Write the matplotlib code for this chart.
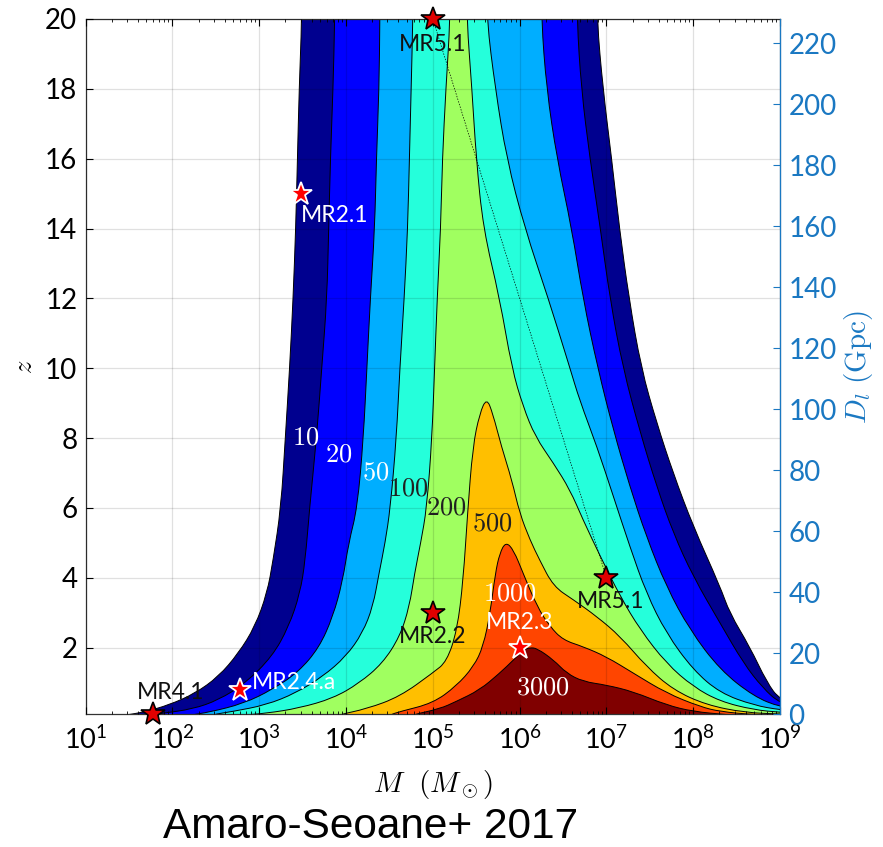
import matplotlib
matplotlib.use('Agg')
import matplotlib.pyplot as plt
from matplotlib.path import Path
from matplotlib.patches import PathPatch
from matplotlib.ticker import LogLocator, LogFormatterSciNotation, NullFormatter, FixedLocator

plt.rcParams['font.family'] = ['Lato', 'DejaVu Sans']
plt.rcParams['mathtext.fontset'] = 'cm'

# SNR levels and the colour of the band above each level
levels = [10, 20, 50, 100, 200, 500, 1000, 3000]
band_colors = ['#00008f', '#0000ff', '#00aeff', '#25ffdb',
               '#a0ff60', '#ffbf00', '#ff4500', '#800000']
label_colors = ['white', 'white', 'white', '#202020', '#202020', '#202020', 'white', 'white']

# contour lines, as (log10 M, z): left branch bottom->top, right branch top->bottom
c10_left = [(1.45, 0.07), (1.54, 0.1), (1.69, 0.17), (1.96, 0.36), (2.26, 0.69), (2.53, 1.17),
            (2.76, 1.84), (2.95, 2.6), (3.09, 3.56), (3.16, 4.51), (3.25, 6), (3.30, 8),
            (3.35, 10), (3.39, 12), (3.42, 14), (3.44, 16), (3.46, 18), (3.49, 20)]
c10_right = [(6.89, 20), (6.96, 18), (7.06, 16), (7.15, 14), (7.26, 12), (7.40, 10), (7.58, 8.43),
             (7.77, 6.99), (8.0, 5.47), (8.31, 3.75), (8.42, 2.99), (8.65, 2.03), (8.85, 1.0),
             (9.0, 0.5), (9.3, 0.3)]

c20_left = [(1.75, 0.07), (1.88, 0.12), (2.23, 0.24), (2.53, 0.5), (2.84, 0.98), (3.15, 1.75),
            (3.34, 2.6), (3.47, 3.56), (3.53, 4.5), (3.58, 6), (3.66, 8), (3.72, 10),
            (3.78, 12), (3.80, 14), (3.82, 16), (3.85, 18), (3.87, 20)]
c20_right = [(6.66, 20), (6.71, 18), (6.81, 16), (6.93, 14), (7.04, 12), (7.19, 10), (7.39, 8.15),
             (7.58, 6.61), (7.77, 5.28), (8.0, 4.03), (8.31, 2.7), (8.58, 1.55), (8.8, 0.85),
             (9.0, 0.4), (9.3, 0.25)]

c50_left = [(2.2, 0.07), (2.42, 0.15), (2.82, 0.40), (3.15, 0.8), (3.45, 1.3), (3.69, 2.0),
            (3.85, 2.9), (3.96, 3.9), (4.03, 5.0), (4.13, 6), (4.20, 8), (4.24, 10),
            (4.28, 12), (4.33, 14), (4.35, 16), (4.38, 18), (4.39, 20)]
c50_right = [(6.25, 20), (6.31, 18), (6.43, 16), (6.60, 14), (6.73, 12), (6.90, 10), (7.08, 8.23),
             (7.27, 6.61), (7.46, 5.18), (7.69, 3.75), (7.96, 2.51), (8.31, 1.36), (8.7, 0.6),
             (9.0, 0.3), (9.3, 0.2)]

c100_left = [(2.45, 0.08), (2.69, 0.17), (3.08, 0.36), (3.42, 0.70), (3.73, 1.17), (4.0, 1.75),
             (4.19, 2.42), (4.31, 3.18), (4.38, 4.13), (4.45, 5.0), (4.51, 6), (4.58, 8),
             (4.62, 10), (4.67, 12), (4.71, 14), (4.73, 16), (4.75, 18), (4.77, 20)]
c100_right = [(5.62, 20), (5.72, 18), (5.85, 16), (6.06, 14), (6.33, 12), (6.58, 10), (6.69, 9.09),
              (6.89, 7.76), (7.08, 6.33), (7.27, 4.89), (7.46, 3.56), (7.69, 2.41), (8.0, 1.36),
              (8.31, 0.7), (8.7, 0.35), (9.0, 0.22), (9.3, 0.15)]

c200_left = [(2.8, 0.07), (3.08, 0.12), (3.46, 0.27), (3.85, 0.55), (4.15, 0.98), (4.42, 1.55),
             (4.62, 2.32), (4.73, 3.18), (4.79, 4.13), (4.86, 5.0), (4.93, 6), (4.99, 8),
             (5.02, 10), (5.05, 12), (5.09, 14), (5.11, 16), (5.15, 18), (5.20, 20)]
c200_right = [(5.39, 20), (5.45, 18), (5.50, 16), (5.58, 14), (5.77, 12), (5.91, 10), (6.04, 8.9),
              (6.18, 8.04), (6.39, 7.28), (6.58, 6.52), (6.73, 5.66), (6.93, 4.61), (7.16, 3.46),
              (7.39, 2.51), (7.69, 1.55), (8.0, 0.88), (8.31, 0.46), (8.7, 0.22), (9.0, 0.15),
              (9.3, 0.1)]

c500_left = [(3.9, 0.07), (4.24, 0.25), (4.62, 0.6), (5.0, 1.28), (5.16, 1.6), (5.28, 2.5),
             (5.35, 3.94), (5.40, 5.85), (5.46, 7.76), (5.54, 8.71), (5.62, 9.15)]
c500_right = [(5.69, 8.71), (5.79, 7.76), (5.91, 6.8), (6.0, 5.85), (6.12, 5.08), (6.23, 4.51),
              (6.39, 3.75), (6.62, 3.37), (6.89, 2.89), (7.16, 2.32), (7.46, 1.46), (7.77, 0.79),
              (8.15, 0.36), (8.6, 0.14), (9.0, 0.1), (9.3, 0.08)]

c1000_left = [(4.5, 0.07), (4.62, 0.17), (5.0, 0.41), (5.27, 0.9), (5.47, 1.46), (5.58, 2.03),
              (5.66, 2.99), (5.72, 4.13), (5.77, 4.7), (5.84, 5.03)]
c1000_right = [(5.93, 4.8), (6.04, 4.13), (6.20, 3.18), (6.35, 2.6), (6.50, 2.22), (6.73, 2.03),
               (7.0, 1.74), (7.31, 1.27), (7.69, 0.7), (8.08, 0.31), (8.31, 0.17), (8.7, 0.08),
               (9.3, 0.05)]

c3000_left = [(4.75, 0.07), (5.08, 0.25), (5.27, 0.46), (5.54, 0.79), (5.77, 1.27), (5.93, 1.65),
              (6.05, 1.95), (6.12, 2.0)]
c3000_right = [(6.20, 1.98), (6.39, 1.65), (6.54, 1.27), (6.73, 1.03), (7.0, 0.93), (7.31, 0.74),
               (7.69, 0.36), (8.0, 0.17), (8.4, 0.08), (8.6, 0.05)]

contours = [(c10_left, c10_right), (c20_left, c20_right), (c50_left, c50_right),
            (c100_left, c100_right), (c200_left, c200_right), (c500_left, c500_right),
            (c1000_left, c1000_right), (c3000_left, c3000_right)]

# inline contour label positions (log10 M, z)
clabel_pos = [(3.54, 8.04), (3.91, 7.55), (4.34, 7.04), (4.72, 6.56),
              (5.16, 6.04), (5.68, 5.56), (5.89, 3.56), (6.27, 0.88)]

# mission reference points
sources = ['MR5.1', 'MR2.1', 'MR4.1', 'MR2.4.a', 'MR2.2', 'MR2.3', 'MR5.1']
source_mass = [1e5, 3e3, 60, 600, 1e5, 1e6, 1e7]
source_z = [20, 15, 0.1, 0.8, 3, 2, 4]
source_white = [False, True, False, True, False, True, False]
# label anchor (log10 M, z, ha)
source_label_pos = [(5.0, 19.28, 'center'), (3.48, 14.36, 'left'), (1.98, 0.72, 'center'),
                    (2.91, 1.0, 'left'), (5.0, 2.32, 'center'), (6.0, 2.72, 'center'),
                    (7.05, 3.32, 'center')]

xtick_values = [1e1, 1e2, 1e3, 1e4, 1e5, 1e6, 1e7, 1e8, 1e9]
ztick_values = [2, 4, 6, 8, 10, 12, 14, 16, 18, 20]
dl_tick_values = [0, 20, 40, 60, 80, 100, 120, 140, 160, 180, 200, 220]

right_blue = '#1a78c2'


def smooth_band(left, right):
    """Closed outline of one level, with rounded joins drawn as quadratic Bezier pieces."""
    pts = [(left[0][0], 0.0)] + list(left)
    if left[-1][1] >= 20:
        pts.append((left[-1][0], 21.5))
        pts.append((right[0][0], 21.5))
    pts += list(right) + [(right[-1][0], 0.0)]
    n = len(pts)
    mids = [((pts[i][0] + pts[(i + 1) % n][0]) / 2, (pts[i][1] + pts[(i + 1) % n][1]) / 2)
            for i in range(n)]
    verts = [mids[-1]]
    codes = [Path.MOVETO]
    for i in range(n):
        verts += [pts[i], mids[i]]
        codes += [Path.CURVE3, Path.CURVE3]
    verts.append(mids[-1])
    codes.append(Path.CLOSEPOLY)
    return Path([(10 ** a, b) for a, b in verts], codes)


fig = plt.figure(figsize=(8.83, 8.47), dpi=100)
ax = fig.add_axes([0.097, 0.157, 0.7864, 0.8206])

for (left, right), color in zip(contours, band_colors):
    ax.add_patch(PathPatch(smooth_band(left, right), facecolor=color, edgecolor='black',
                           linewidth=0.7, zorder=1))

for lev, (lx, lz), col in zip(levels, clabel_pos, label_colors):
    ax.text(10 ** lx, lz, f'${lev}$', color=col, fontsize=19, ha='center', va='center',
            math_fontfamily='cm', zorder=6)

# line joining the two MR5.1 points
ax.plot([source_mass[0], source_mass[-1]], [source_z[0], source_z[-1]],
        color='black', linestyle=(0, (2, 2)), linewidth=0.5, zorder=3)

for name, m, z, white, (lx, lz, ha) in zip(sources, source_mass, source_z, source_white, source_label_pos):
    if white:
        ax.plot(m, z, marker='*', markersize=17, markerfacecolor='red', markeredgecolor='white',
                markeredgewidth=1.3, clip_on=False, zorder=7)
        tcol = 'white'
    else:
        ax.plot(m, z, marker='*', markersize=18, markerfacecolor='#e00000', markeredgecolor='black',
                markeredgewidth=1.2, clip_on=False, zorder=7)
        tcol = '#111111'
    ax.text(10 ** lx, lz, name, color=tcol, fontsize=16.5, ha=ha, va='center', zorder=8)

ax.set_xscale('log')
ax.set_xlim(1e1, 1e9)
ax.set_ylim(0.1, 20)
ax.set_yticks(ztick_values)
ax.xaxis.set_major_locator(FixedLocator(xtick_values))
ax.xaxis.set_major_formatter(LogFormatterSciNotation())
ax.xaxis.set_minor_locator(LogLocator(base=10, subs=range(2, 10), numticks=20))
ax.xaxis.set_minor_formatter(NullFormatter())
ax.tick_params(axis='both', which='major', direction='in', length=5, width=0.8,
               top=True, right=False)
ax.tick_params(axis='y', labelsize=20, pad=6)
ax.tick_params(axis='x', which='major', labelsize=19.5, pad=9)
ax.tick_params(axis='x', which='minor', direction='in', length=2.5, width=0.6, top=True)
ax.set_axisbelow(False)
ax.grid(True, which='major', color='black', alpha=0.12, linewidth=0.9)
for side in ['left', 'top', 'bottom']:
    ax.spines[side].set_color('#333333')
    ax.spines[side].set_linewidth(0.9)

ax.set_xlabel(r'$M\ \ (M_\odot)$', fontsize=21, math_fontfamily='cm', labelpad=10)
ax.set_ylabel(r'$z$', fontsize=19, math_fontfamily='cm', labelpad=6)

ax2 = ax.twinx()
ax2.set_ylim(0, 228)
ax2.set_yticks(dl_tick_values)
ax2.tick_params(axis='y', direction='in', length=5, width=0.8, labelsize=20,
                colors=right_blue, pad=6)
ax2.spines['right'].set_color(right_blue)
ax2.spines['right'].set_linewidth(0.9)
for side in ['left', 'top', 'bottom']:
    ax2.spines[side].set_visible(False)
ax2.set_ylabel(r'$D_l\ (\mathrm{Gpc})$', fontsize=21, color=right_blue, math_fontfamily='cm',
               labelpad=4)

fig.text(371 / 883, 20 / 847, 'Amaro-Seoane+ 2017', fontsize=30.5, family='Liberation Sans',
         ha='center', va='center')

fig.savefig('out.png', dpi=100)
